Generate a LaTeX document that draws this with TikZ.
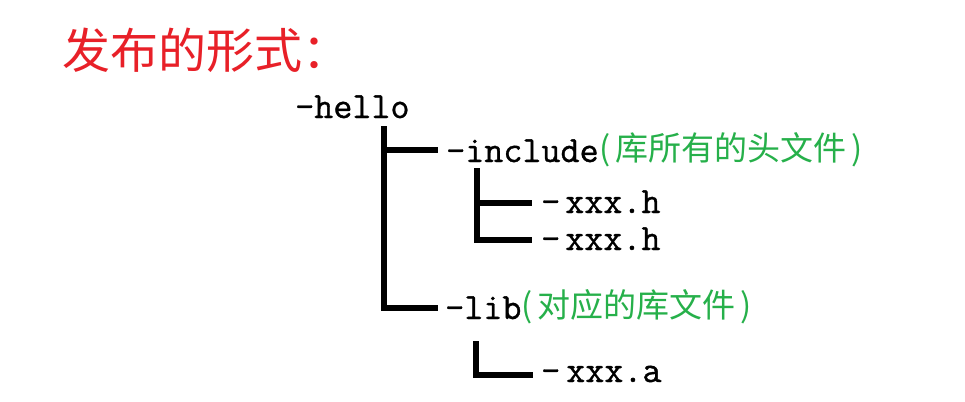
\documentclass[tikz,border=0pt]{standalone}
\usepackage{fontspec}
\newfontfamily\cjk{Noto Sans CJK SC}
\newfontfamily\codefont{Latin Modern Mono}[FakeBold=1]
\definecolor{titlered}{RGB}{232,32,40}
\definecolor{notegreen}{RGB}{38,176,74}
\begin{document}
\begin{tikzpicture}[x=1pt,y=-1pt,
  titletext/.style={inner sep=0pt, anchor=base west, text=titlered, font=\cjk\fontsize{48}{52}\selectfont},
  code/.style={inner sep=0pt, anchor=base west, font=\codefont\fontsize{37}{40}\selectfont},
  note/.style={inner sep=0pt, anchor=base west, text=notegreen, font=\cjk\fontsize{33}{36}\selectfont, yshift=2pt},
  branch/.style={line width=6pt, line join=miter, line cap=butt}]
\fill[white] (0,0) rectangle (965,401);
\useasboundingbox (0,0) rectangle (965,401);

\node[titletext] (title) at (62,68.5) {发布的形式：};

\node[code] (hello) at (295,118) {-hello};
\node[code] (include) at (446,162) {–include};
\node[note] (incnote) at (include.base east) {(\hspace{5pt}库所有的头文件\hspace{5pt})};
\node[code] (h1) at (541,213) {–\hspace{5pt}xxx.h};
\node[code] (h2) at (541,250) {–\hspace{5pt}xxx.h};
\node[code] (lib) at (445,319) {–lib};
\node[note] (libnote) at (lib.base east) {(\hspace{5pt}对应的库文件\hspace{5pt})};
\node[code] (a1) at (541,382) {–\hspace{6pt}xxx.a};

% main branch from hello
\coordinate (t0) at (384,126);
\coordinate (t1) at (384,150);
\coordinate (t2) at (384,308);
\coordinate (e1) at (438,150);
\coordinate (e2) at (438,308);
\draw[branch] (t0) -- (t2) -- (e2);
\draw[branch] (t1) -- (e1);

% include branch
\coordinate (i0) at (477,168);
\coordinate (i1) at (477,203);
\coordinate (i2) at (477,240);
\coordinate (f1) at (532,203);
\coordinate (f2) at (532,240);
\draw[branch] (i0) -- (i2) -- (f2);
\draw[branch] (i1) -- (f1);

% lib branch
\coordinate (l0) at (475.5,341);
\coordinate (l1) at (475.5,375);
\coordinate (g1) at (533,375);
\draw[branch] (l0) -- (l1) -- (g1);
\end{tikzpicture}
\end{document}
